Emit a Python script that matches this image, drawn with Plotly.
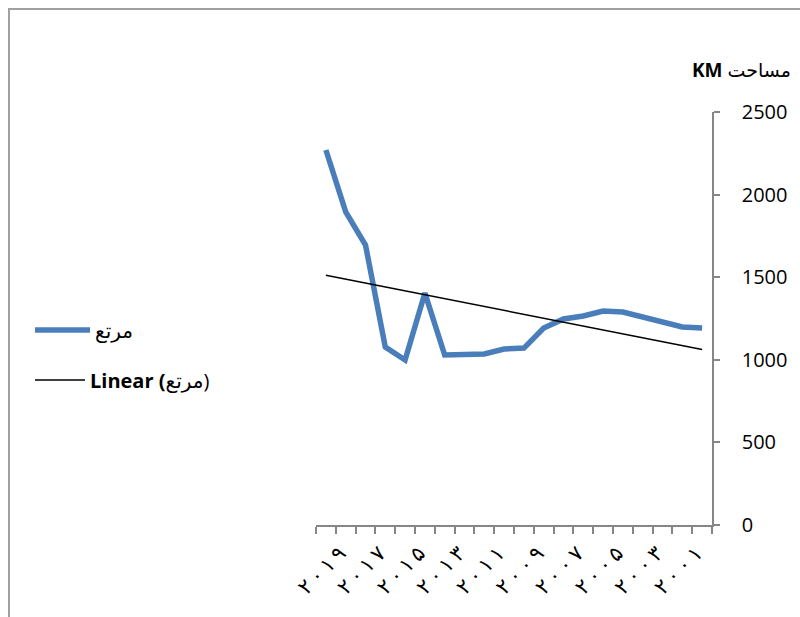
import numpy as np
import plotly.graph_objects as go

years = [str(y) for y in range(2019, 1999, -1)]
values = [2270, 1895, 1695, 1077, 999, 1404, 1029, 1035, 1035, 1065,
          1071, 1192, 1247, 1265, 1295, 1289, 1259, 1229, 1199, 1192]
persian = str.maketrans("0123456789", "۰۱۲۳۴۵۶۷۸۹")
tick_text = ["\u2009".join(y.translate(persian)) if int(y) % 2 == 1 else ""
             for y in years]
y_ticks = [0, 500, 1000, 1500, 2000, 2500]
series_name = "مرتع"
trend_name = "<b>Linear (</b>مرتع)"
axis_title = "<b>KM</b> مساحت"

idx = np.arange(len(values))
slope, intercept = np.polyfit(idx, values, 1)
trend = slope * idx + intercept

L, R, T, B = 316, 88, 112, 92
W, H = 800, 617
pw, ph = W - L - R, H - T - B


def px(x):
    return (x - L) / pw


def py(y):
    return (H - B - y) / ph


fig = go.Figure()
fig.add_trace(go.Scatter(x=years, y=values, mode="lines", name=series_name,
                         line=dict(color="#4a7ebb", width=5.5), legend="legend"))
fig.add_trace(go.Scatter(x=years, y=trend, mode="lines", name=trend_name,
                         line=dict(color="#000000", width=1.5), legend="legend2"))

font = "Open Sans, DejaVu Sans, sans-serif"
fig.update_layout(
    width=W, height=H,
    margin=dict(l=L, r=R, t=T, b=B),
    plot_bgcolor="white", paper_bgcolor="white",
    font=dict(family=font, color="#000000", size=20),
    showlegend=True,
    legend=dict(x=px(30), y=py(330), xanchor="left", yanchor="middle",
                bgcolor="rgba(0,0,0,0)", font=dict(size=20), itemwidth=55),
    legend2=dict(x=px(30), y=py(380), xanchor="left", yanchor="middle",
                 bgcolor="rgba(0,0,0,0)", font=dict(size=20), itemwidth=50),
    xaxis=dict(type="category", categoryorder="array", categoryarray=years,
               range=[-0.5, len(years) - 0.5],
               tickmode="array", tickvals=years, ticktext=tick_text,
               tickson="boundaries", ticks="outside", ticklen=7,
               tickcolor="#868686", tickwidth=1.5,
               showline=True, linecolor="#868686", linewidth=1.5,
               showgrid=False, zeroline=False, tickangle=-45,
               ticklabelshift=14, ticklabelstandoff=6,
               tickfont=dict(size=21, family="DejaVu Sans, sans-serif")),
    yaxis=dict(side="right", range=[0, 2500], tickvals=y_ticks,
               ticks="outside", ticklen=6, tickcolor="#868686", tickwidth=1.5,
               showline=True, linecolor="#868686", linewidth=1.5,
               showgrid=False, zeroline=False, ticklabelstandoff=18,
               tickfont=dict(size=20)),
    annotations=[dict(text=axis_title, xref="paper", yref="paper",
                      x=px(690), y=py(70), xanchor="left", yanchor="middle",
                      showarrow=False, font=dict(size=19))],
    shapes=[
        dict(type="line", xref="paper", yref="paper", x0=px(9), x1=px(9),
             y0=py(9), y1=py(630), line=dict(color="#a0a0a0", width=2)),
        dict(type="line", xref="paper", yref="paper", x0=px(8), x1=px(810),
             y0=py(9), y1=py(9), line=dict(color="#a0a0a0", width=2)),
    ],
)

fig.write_html("out.html")
